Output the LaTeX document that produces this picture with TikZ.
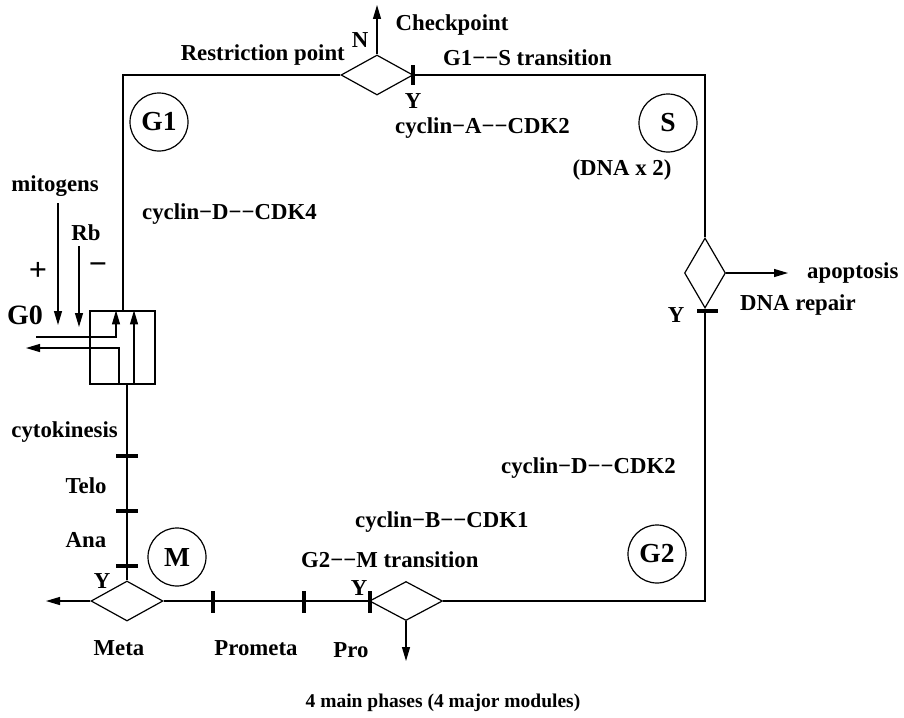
\documentclass[tikz,border=0pt]{standalone}
\usepackage{fontspec}
\setmainfont{Liberation Serif}
\usetikzlibrary{shapes.geometric,arrows.meta}
\tikzset{
  wire/.style={line width=1.2pt},
  arrowline/.style={wire,-{Triangle[length=14pt,width=8pt]}},
  tickmark/.style={line width=3.5pt},
  lab/.style={inner sep=0pt,font=\bfseries\fontsize{22.8}{27}\selectfont},
  titlelab/.style={inner sep=0pt,font=\bfseries\fontsize{19.5}{23}\selectfont},
  biglab/.style={inner sep=0pt,font=\bfseries\fontsize{28}{32}\selectfont},
  signlab/.style={inner sep=0pt,font=\bfseries\fontsize{32}{36}\selectfont},
  phase/.style={draw,circle,line width=1.2pt,minimum size=58pt,inner sep=0pt,
                font=\bfseries\fontsize{27.5}{32}\selectfont},
  decide/.style={draw,diamond,line width=1.2pt,inner sep=0pt},
  gatebox/.style={draw,line width=1.2pt,inner sep=0pt},
}
\begin{document}
\begin{tikzpicture}[x=1pt,y=-1pt]
\useasboundingbox (0,0) rectangle (904,717);

% decision diamonds and the G0 gate
\node[decide,minimum width=72pt,minimum height=40pt] (rp)   at (377,75)  {};
\node[decide,minimum width=41pt,minimum height=70pt] (dna)  at (705,273) {};
\node[decide,minimum width=73pt,minimum height=39pt] (g2m)  at (406,601) {};
\node[decide,minimum width=72pt,minimum height=40pt] (meta) at (127,601) {};
\node[gatebox,minimum width=65pt,minimum height=73pt] (gate) at (122.5,347.5) {};

% phase circles
\node[phase] (G1) at (159,122) {G1};
\node[phase] (S)  at (668,123) {S};
\node[phase] (M)  at (177,557) {M};
\node[phase] (G2) at (657,554) {G2};

% cycle frame
\coordinate (tl) at (123,75);
\coordinate (tr) at (705,75);
\coordinate (br) at (705,601);
\coordinate (lowin) at (127,384);
\draw[wire] (gate.north -| tl) -- (tl) -- (rp.west);
\draw[wire] (rp.east) -- (tr) -- (dna.north);
\draw[wire] (dna.south) -- (br) -- (g2m.east);
\draw[wire] (g2m.west) -- (meta.east);
\draw[wire] (meta.north) -- (lowin);

% exits
\coordinate (ckpt) at (377,5);
\coordinate (apo)  at (788,273);
\coordinate (down) at (406,661);
\coordinate (out)  at (46,601);
\draw[arrowline] (rp.north) -- (ckpt);
\draw[arrowline] (dna.east) -- (apo);
\draw[arrowline] (g2m.south) -- (down);
\draw[arrowline] (meta.west) -- (out);

% inside the G0 gate
\coordinate (g0in)  at (36,337);
\coordinate (g0out) at (26,348);
\draw[arrowline] ([xshift=11.5pt]gate.south) -- ([xshift=11.5pt]gate.north);
\draw[arrowline] (g0in) -| ([xshift=-6.5pt]gate.north);
\draw[arrowline] ([xshift=-3.5pt]gate.south) |- (g0out);

% external signals
\coordinate (mA) at (58,203);  \coordinate (mB) at (58,325);
\coordinate (rA) at (79,246);  \coordinate (rB) at (79,327);
\draw[arrowline] (mA) -- (mB);
\draw[arrowline] (rA) -- (rB);

% transition marks
\draw[tickmark] (413,65) -- (413,85);
\draw[tickmark] (697,311) -- (718,311);
\draw[tickmark] (213,591) -- (213,613);
\draw[tickmark] (304,591) -- (304,613);
\draw[tickmark] (370,591) -- (370,613);
\draw[tickmark] (116,456) -- (138,456);
\draw[tickmark] (116,511) -- (138,511);
\draw[tickmark] (116,566) -- (138,566);

% labels
\node[lab,anchor=east] (restr) at (345,55) {Restriction point};
\node[lab] (nlab) at (360,40) {N};
\node[lab] (chk) at (452,25) {Checkpoint};
\node[lab,anchor=west] (g1s) at (443,58) {G1−−S transition};
\node[lab] (y1) at (413,101) {Y};
\node[lab,anchor=west] (cA) at (395,128) {cyclin−A−−CDK2};
\node[lab] (dnax) at (622,170) {(DNA x 2)};
\node[lab,anchor=west] (cD4) at (142,214) {cyclin−D−−CDK4};
\node[lab] (mito) at (55,186) {mitogens};
\node[lab] (rb) at (86,233) {Rb};
\node[signlab] (plus) at (38,271) {+};
\node[signlab] (minus) at (98,269) {−};
\node[biglab] (g0) at (25,315) {G0};
\node[lab,anchor=west] (apol) at (807,273) {apoptosis};
\node[lab,anchor=west] (rep) at (740,305) {DNA repair};
\node[lab] (y2) at (676,315) {Y};
\node[lab,anchor=west] (cD2) at (501,468) {cyclin−D−−CDK2};
\node[lab,anchor=west] (cB1) at (355,522) {cyclin−B−−CDK1};
\node[lab,anchor=west] (g2ml) at (301,560) {G2−−M transition};
\node[lab] (y3) at (359,588) {Y};
\node[lab,anchor=east] (cyto) at (118,432) {cytokinesis};
\node[lab] (telo) at (86,486) {Telo};
\node[lab] (ana) at (86,540) {Ana};
\node[lab] (y4) at (102,581) {Y};
\node[lab] (metal) at (119,648) {Meta};
\node[lab] (prom) at (256,648) {Prometa};
\node[lab] (pro) at (351,650) {Pro};
\node[titlelab,anchor=base] (title) at (443,707) {4 main phases (4 major modules)};
\end{tikzpicture}
\end{document}
